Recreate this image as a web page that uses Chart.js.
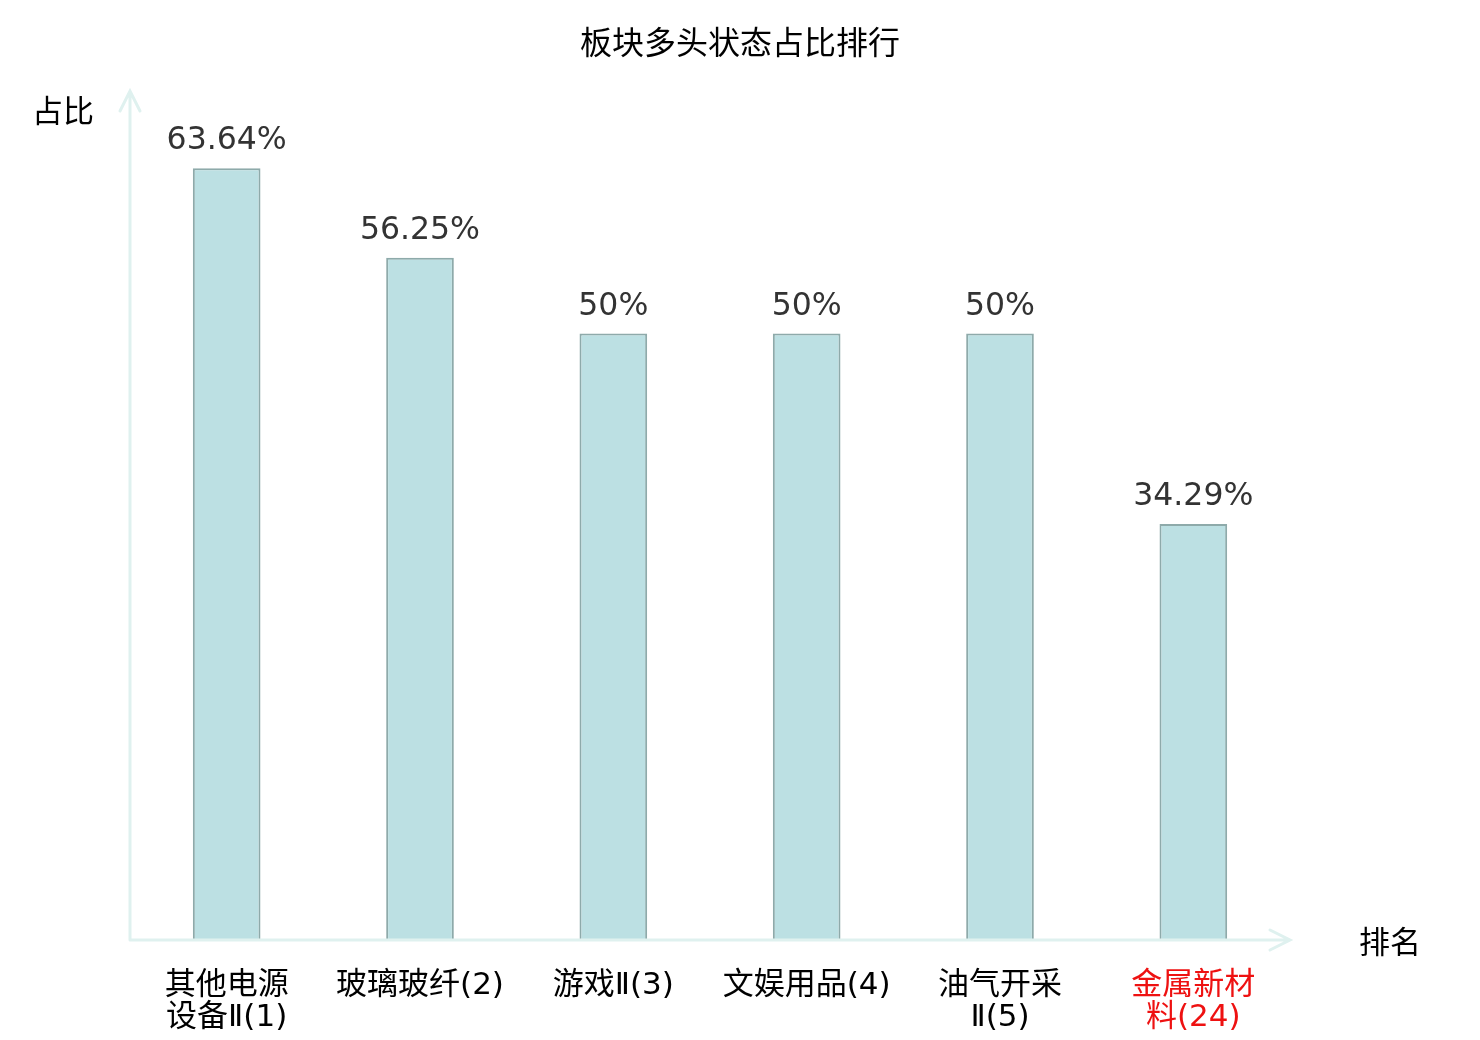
<!DOCTYPE html>
<html>
<head>
<meta charset="utf-8">
<script src="https://cdn.jsdelivr.net/npm/chart.js@4"></script>
<style>
  html, body { margin: 0; padding: 0; background: #fff; }
  #wrap { width: 1480px; height: 1040px; }
</style>
</head>
<body>
<div id="wrap"><canvas id="c" width="1480" height="1040"></canvas></div>
<script>
// sector names, split into the two lines shown under each bar
const sectorLines = [
    ['其他电源', '设备Ⅱ(1)'],
    ['玻璃玻纤(2)'],
    ['游戏Ⅱ(3)'],
    ['文娱用品(4)'],
    ['油气开采', 'Ⅱ(5)'],
    ['金属新材', '料(24)']
];
const bullShare  = [63.64, 56.25, 50, 50, 50, 34.29];
const shareText  = ['63.64%', '56.25%', '50%', '50%', '50%', '34.29%'];
const yMax       = 70;
const chartTitle = '板块多头状态占比排行';

const CJK    = '"Noto Sans CJK SC", "Noto Sans", sans-serif';
const TICKF  = '"DejaVu Sans", "Noto Sans CJK SC", sans-serif';
const LATIN  = '"DejaVu Sans", sans-serif';
const AXIS_C = '#dff1ef';

// title centred on the whole canvas, axis lines with arrow heads, axis names
const axisArrows = {
    id: 'axisArrows',
    afterDatasetsDraw(chart) {
        const {ctx, chartArea: a, width} = chart;
        const x0 = a.left, y0 = a.bottom;
        ctx.save();
        ctx.strokeStyle = AXIS_C;
        ctx.lineWidth   = 3;
        ctx.lineCap     = 'round';
        ctx.beginPath();
        ctx.moveTo(x0, y0); ctx.lineTo(x0, a.top);
        ctx.moveTo(x0, y0); ctx.lineTo(a.right, y0);
        // arrow heads
        ctx.moveTo(x0 - 10, a.top + 20); ctx.lineTo(x0, a.top); ctx.lineTo(x0 + 10, a.top + 20);
        ctx.moveTo(a.right - 20, y0 - 10); ctx.lineTo(a.right, y0); ctx.lineTo(a.right - 20, y0 + 10);
        ctx.stroke();

        ctx.fillStyle    = '#000';
        ctx.textAlign    = 'center';
        ctx.textBaseline = 'middle';
        ctx.font         = '32px ' + CJK;
        ctx.fillText(chartTitle, width / 2, 42);
        ctx.font         = '31px ' + CJK;
        ctx.fillText('占比', x0 - 67, a.top + 19);
        ctx.fillText('排名', a.right + 100, y0 + 1);
        ctx.restore();
    }
};

// value labels above bars
const barLabels = {
    id: 'barLabels',
    afterDatasetsDraw(chart) {
        const {ctx} = chart;
        const meta = chart.getDatasetMeta(0);
        ctx.save();
        ctx.fillStyle    = '#333';
        ctx.font         = '31.5px ' + LATIN;
        ctx.textAlign    = 'center';
        ctx.textBaseline = 'alphabetic';
        meta.data.forEach((bar, i) => {
            ctx.fillText(shareText[i], bar.x, bar.y - 19);
        });
        ctx.restore();
    }
};

new Chart(document.getElementById('c'), {
    type: 'bar',
    data: {
        labels: sectorLines,
        datasets: [{
            data: bullShare,
            backgroundColor: '#bce0e3',
            borderColor: '#8eaaaa',
            borderWidth: 2,
            categoryPercentage: 1,
            barPercentage: 0.35
        }]
    },
    options: {
        responsive: false,
        animation: false,
        devicePixelRatio: 1,
        layout: {padding: {left: 130, right: 190, top: 91, bottom: 0}},
        plugins: {
            legend: {display: false},
            tooltip: {enabled: false},
            title: {display: false}
        },
        scales: {
            x: {
                grid: {display: false},
                border: {display: false},
                afterFit(scale) { scale.height = 100; },
                ticks: {
                    color: ctx => ctx.index === sectorLines.length - 1 ? '#ee1111' : '#000',
                    font: {family: TICKF, size: 31, lineHeight: 1.03},
                    padding: 22,
                    maxRotation: 0,
                    autoSkip: false
                }
            },
            y: {
                display: false,
                min: 0,
                max: yMax
            }
        }
    },
    plugins: [axisArrows, barLabels]
});
</script>
</body>
</html>
